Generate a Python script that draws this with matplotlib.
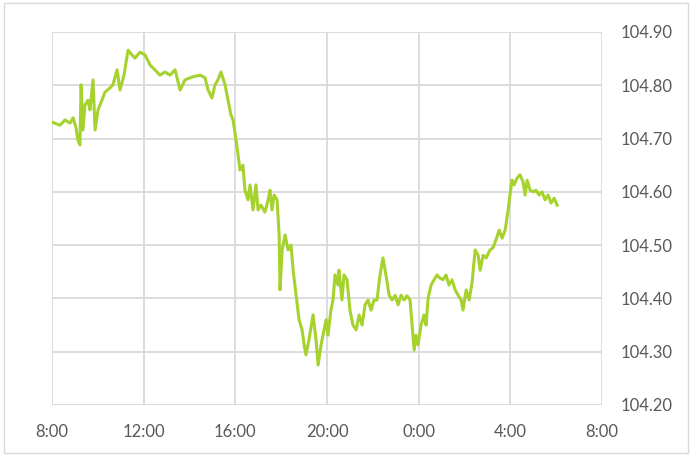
import matplotlib
matplotlib.use("Agg")
import matplotlib.pyplot as plt
from matplotlib.patches import Rectangle

# hours since 8:00 and price
hours = [0.00, 0.35, 0.57, 0.79, 0.92, 1.05, 1.13, 1.22, 1.27, 1.35, 1.44, 1.57, 1.66, 1.79, 1.88,
         2.01, 2.18, 2.31, 2.53, 2.66, 2.84, 2.97, 3.14, 3.32, 3.49, 3.62, 3.84, 4.06, 4.28, 4.49,
         4.71, 4.93, 5.15, 5.37, 5.59, 5.80, 6.02, 6.24, 6.46, 6.68, 6.81, 6.98, 7.11, 7.24, 7.37,
         7.55, 7.68, 7.81, 7.90, 8.03, 8.12, 8.20, 8.33, 8.42, 8.55, 8.64, 8.77, 8.90, 8.99, 9.12,
         9.29, 9.43, 9.51, 9.60, 9.69, 9.82, 9.91, 9.95, 10.04, 10.17, 10.30, 10.43, 10.52, 10.65,
         10.78, 10.91, 11.00, 11.08, 11.21, 11.39, 11.52, 11.61, 11.74, 11.87, 11.96, 12.04, 12.17,
         12.26, 12.35, 12.48, 12.52, 12.65, 12.74, 12.87, 13.00, 13.13, 13.27, 13.40, 13.53, 13.66,
         13.79, 13.92, 14.05, 14.18, 14.31, 14.44, 14.57, 14.71, 14.84, 14.97, 15.10, 15.23, 15.36,
         15.49, 15.62, 15.71, 15.80, 15.88, 15.97, 16.10, 16.23, 16.32, 16.41, 16.54, 16.67, 16.80,
         16.93, 17.06, 17.19, 17.32, 17.45, 17.59, 17.72, 17.85, 17.93, 18.07, 18.20, 18.33, 18.46,
         18.59, 18.68, 18.81, 18.94, 19.11, 19.24, 19.37, 19.51, 19.64, 19.77, 19.90, 19.98, 20.07,
         20.16, 20.29, 20.42, 20.55, 20.64, 20.73, 20.86, 20.99, 21.12, 21.25, 21.38, 21.51, 21.64,
         21.77, 21.91, 22.04]
price = [104.731, 104.725, 104.735, 104.729, 104.739, 104.720, 104.697, 104.688, 104.801, 104.716,
         104.763, 104.772, 104.754, 104.810, 104.716, 104.754, 104.772, 104.787, 104.795, 104.801,
         104.829, 104.791, 104.819, 104.866, 104.857, 104.851, 104.862, 104.857, 104.838, 104.829,
         104.819, 104.825, 104.819, 104.829, 104.791, 104.810, 104.814, 104.817, 104.819, 104.814,
         104.791, 104.776, 104.801, 104.810, 104.825, 104.801, 104.772, 104.744, 104.735, 104.697,
         104.669, 104.641, 104.650, 104.603, 104.585, 104.613, 104.566, 104.613, 104.566, 104.575,
         104.562, 104.585, 104.603, 104.566, 104.594, 104.585, 104.519, 104.416, 104.491, 104.519,
         104.491, 104.500, 104.453, 104.406, 104.360, 104.341, 104.313, 104.294, 104.322, 104.369,
         104.322, 104.275, 104.313, 104.341, 104.360, 104.331, 104.378, 104.397, 104.444, 104.425,
         104.453, 104.397, 104.444, 104.435, 104.378, 104.350, 104.341, 104.369, 104.350, 104.388,
         104.397, 104.378, 104.397, 104.397, 104.444, 104.476, 104.444, 104.406, 104.397, 104.406,
         104.388, 104.406, 104.397, 104.405, 104.397, 104.350, 104.303, 104.331, 104.313, 104.350,
         104.369, 104.350, 104.401, 104.425, 104.435, 104.444, 104.438, 104.435, 104.444, 104.425,
         104.435, 104.416, 104.406, 104.397, 104.378, 104.416, 104.397, 104.431, 104.491, 104.481,
         104.453, 104.481, 104.476, 104.491, 104.495, 104.510, 104.528, 104.513, 104.528, 104.566,
         104.594, 104.622, 104.613, 104.626, 104.632, 104.619, 104.594, 104.622, 104.603, 104.600,
         104.603, 104.594, 104.600, 104.585, 104.594, 104.579, 104.588, 104.575]

x_ticks = [0, 4, 8, 12, 16, 20, 24]
x_labels = ["8:00", "12:00", "16:00", "20:00", "0:00", "4:00", "8:00"]
y_ticks = [104.20, 104.30, 104.40, 104.50, 104.60, 104.70, 104.80, 104.90]

plt.rcParams['font.family'] = ['Lato', 'DejaVu Sans']

fig = plt.figure(figsize=(6.92, 4.57), dpi=100)
ax = fig.add_axes([0.0751, 0.1138, 0.795, 0.8162])

ax.plot(hours, price, color='#a6d22e', linewidth=2.2, zorder=3, solid_joinstyle='round')

ax.set_xlim(0, 24)
ax.set_ylim(104.2, 104.9)
ax.set_xticks(x_ticks, x_labels)
ax.set_yticks(y_ticks, ['%.2f' % v for v in y_ticks])
ax.yaxis.tick_right()
ax.tick_params(axis='both', length=0, colors='#595959', labelsize=12)
ax.tick_params(axis='x', pad=14)
ax.tick_params(axis='y', pad=13)
ax.grid(True, color='#d9d9d9', linewidth=1.3)
for s in ax.spines.values():
    s.set_visible(False)

fig.patches.append(Rectangle((0.006, 0.008), 0.988, 0.985, transform=fig.transFigure,
                             fill=False, edgecolor='#d9d9d9', linewidth=1))

fig.savefig('out.png', dpi=100)
